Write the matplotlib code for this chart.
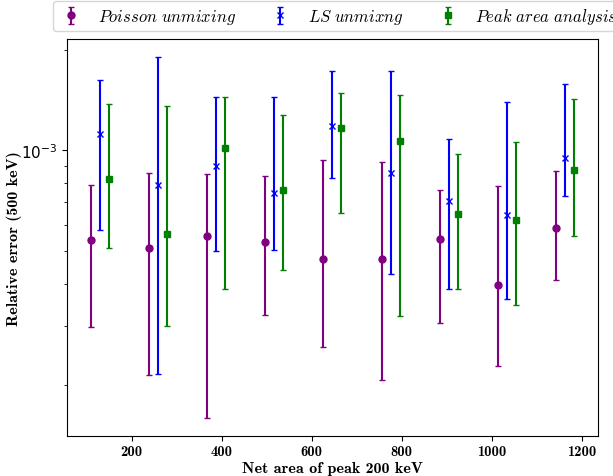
import numpy as np
import matplotlib.pyplot as plt
from matplotlib.ticker import NullFormatter

plt.rcParams['mathtext.fontset'] = 'cm'
plt.rcParams['axes.unicode_minus'] = False

# net area positions (purple), other series shifted right
x_poisson = np.array([110, 239, 368, 497, 626, 755, 884, 1013, 1142])
x_ls = x_poisson + 20
x_peak = x_poisson + 40

# relative errors (x 1e-3): centre, lower bar end, upper bar end
poisson_c = np.array([0.539, 0.512, 0.555, 0.532, 0.474, 0.474, 0.545, 0.396, 0.585]) * 1e-3
poisson_lo = np.array([0.297, 0.2135, 0.159, 0.322, 0.259, 0.207, 0.306, 0.227, 0.409]) * 1e-3
poisson_hi = np.array([0.788, 0.856, 0.848, 0.836, 0.934, 0.923, 0.763, 0.782, 0.866]) * 1e-3

ls_c = np.array([1.116, 0.786, 0.896, 0.746, 1.179, 0.854, 0.708, 0.641, 0.951]) * 1e-3
ls_lo = np.array([0.578, 0.215, 0.502, 0.505, 0.825, 0.4285, 0.387, 0.361, 0.7305]) * 1e-3
ls_hi = np.array([1.626, 1.899, 1.443, 1.443, 1.725, 1.725, 1.079, 1.398, 1.581]) * 1e-3

peak_c = np.array([0.819, 0.5625, 1.019, 0.760, 1.169, 1.069, 0.644, 0.618, 0.876]) * 1e-3
peak_lo = np.array([0.510, 0.299, 0.385, 0.441, 0.652, 0.320, 0.385, 0.346, 0.555]) * 1e-3
peak_hi = np.array([1.378, 1.356, 1.443, 1.275, 1.480, 1.459, 0.973, 1.062, 1.427]) * 1e-3

fig = plt.figure(figsize=(6.13, 4.77), dpi=100)
ax = fig.add_axes([0.1093, 0.0839, 0.8662, 0.8321])

ax.errorbar(x_poisson, poisson_c, yerr=[poisson_c - poisson_lo, poisson_hi - poisson_c],
            fmt='o', color='purple', capsize=2, elinewidth=1.5, markersize=5,
            label=r'$Poisson\ unmixing$')
ax.errorbar(x_ls, ls_c, yerr=[ls_c - ls_lo, ls_hi - ls_c],
            fmt='x', color='blue', capsize=2, elinewidth=1.5, markersize=4,
            label=r'$LS\ unmixng$')
ax.errorbar(x_peak, peak_c, yerr=[peak_c - peak_lo, peak_hi - peak_c],
            fmt='s', color='green', capsize=2, elinewidth=1.5, markersize=4.5,
            label=r'$Peak\ area\ analysis$')

ax.set_yscale('log')
ax.yaxis.set_minor_formatter(NullFormatter())
ax.set_xticks([200, 400, 600, 800, 1000, 1200])

ax.set_xlabel('Net area of peak 200 keV', family='cmb10', fontsize=11.5, labelpad=2)
ax.set_ylabel('Relative error (500 keV)', family='cmb10', fontsize=11.5, labelpad=-1)
for lab in ax.get_xticklabels():
    lab.set_family('cmb10')
    lab.set_fontsize(10.5)
ax.tick_params(axis='x', pad=2.5)
ax.tick_params(axis='y', labelsize=11)

ax.legend(loc='lower left', bbox_to_anchor=(53 / 613, 1 - 32 / 477),
          bbox_transform=fig.transFigure, borderaxespad=0, ncol=3, fontsize=12,
          handlelength=1.5, handletextpad=0.9, columnspacing=1.9, borderpad=0.3,
          frameon=True)

fig.savefig('out.png', dpi=100)
